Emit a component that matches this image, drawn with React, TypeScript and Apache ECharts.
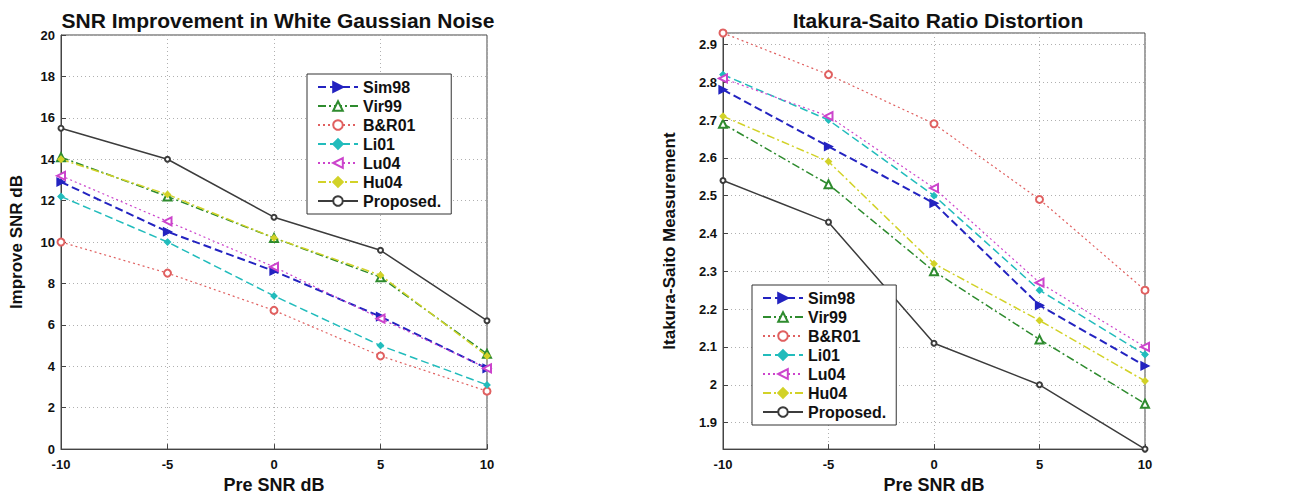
import React, { useEffect, useRef } from 'react';
import * as echarts from 'echarts';

// ---- data ----
const preSnr = [-10, -5, 0, 5, 10];
const seriesNames = ['Sim98', 'Vir99', 'B&R01', 'Li01', 'Lu04', 'Hu04', 'Proposed.'];

// SNR improvement (dB)
const snrSim98 = [12.9, 10.5, 8.6, 6.4, 3.9];
const snrVir99 = [14.1, 12.2, 10.2, 8.3, 4.6];
const snrBR01 = [10.0, 8.5, 6.7, 4.5, 2.8];
const snrLi01 = [12.2, 10.0, 7.4, 5.0, 3.1];
const snrLu04 = [13.2, 11.0, 8.8, 6.3, 3.9];
const snrHu04 = [14.0, 12.3, 10.2, 8.4, 4.5];
const snrProposed = [15.5, 14.0, 11.2, 9.6, 6.2];

// Itakura-Saito measurement
const isSim98 = [2.78, 2.63, 2.48, 2.21, 2.05];
const isVir99 = [2.69, 2.53, 2.30, 2.12, 1.95];
const isBR01 = [2.93, 2.82, 2.69, 2.49, 2.25];
const isLi01 = [2.82, 2.70, 2.50, 2.25, 2.08];
const isLu04 = [2.81, 2.71, 2.52, 2.27, 2.10];
const isHu04 = [2.71, 2.59, 2.32, 2.17, 2.01];
const isProposed = [2.54, 2.43, 2.11, 2.00, 1.83];

const snrSets = [snrSim98, snrVir99, snrBR01, snrLi01, snrLu04, snrHu04, snrProposed];
const isSets = [isSim98, isVir99, isBR01, isLi01, isLu04, isHu04, isProposed];

// ---- styles ----
const styles = [
  { color: '#2323c0', type: [8, 4], width: 2, symbol: 'triangle', rotate: -90, size: 8 },
  { color: '#2e8b2e', type: [8, 3, 2, 3], width: 1.5, symbol: 'emptyTriangle', rotate: 0, size: 8 },
  { color: '#e06060', type: [2, 3], width: 1.2, symbol: 'emptyCircle', rotate: 0, size: 7 },
  { color: '#22bcbc', type: [8, 4], width: 1.5, symbol: 'diamond', rotate: 0, size: 6 },
  { color: '#cc44cc', type: [2, 3], width: 1.2, symbol: 'emptyTriangle', rotate: 90, size: 8 },
  { color: '#d2d228', type: [8, 3, 2, 3], width: 1.5, symbol: 'diamond', rotate: 0, size: 6 },
  { color: '#3c3c3c', type: 'solid', width: 1.5, symbol: 'emptyCircle', rotate: 0, size: 5 },
];

const FONT = 'Arial, "Liberation Sans", sans-serif';

function makeSeries(sets: number[][], axisIndex: number) {
  return sets.map((vals, i) => {
    const s = styles[i];
    return {
      type: 'line',
      name: seriesNames[i],
      xAxisIndex: axisIndex,
      yAxisIndex: axisIndex,
      data: preSnr.map((x, k) => [x, vals[k]]),
      symbol: s.symbol,
      symbolRotate: s.rotate,
      symbolSize: s.size,
      showSymbol: true,
      lineStyle: { color: s.color, type: s.type as any, width: s.width },
      itemStyle: { color: s.color, borderColor: s.color, borderWidth: 1.3 },
      z: i === 6 ? 3 : 2,
    };
  });
}

const axisLabelStyle = { color: '#111', fontFamily: FONT, fontWeight: 'bold' as const, fontSize: 13, lineHeight: 13 };
const splitLineStyle = { show: true, lineStyle: { color: '#b0b0b0', type: [1, 3] as any, width: 1 } };
const axisLineStyle = { show: true, onZero: false, lineStyle: { color: '#444', width: 1 } };
const nameStyle = { color: '#111', fontFamily: FONT, fontWeight: 'bold' as const, fontSize: 18 };

const legendBase = {
  orient: 'vertical' as const,
  data: seriesNames,
  backgroundColor: '#fff',
  borderColor: '#333',
  borderWidth: 1,
  itemWidth: 40,
  itemHeight: 12,
  itemGap: 3,
  selectedMode: false,
  textStyle: { color: '#111', fontFamily: FONT, fontWeight: 'bold' as const, fontSize: 16, lineHeight: 15 },
};

export default function App() {
  const ref = useRef<HTMLDivElement>(null);
  useEffect(() => {
    if (!ref.current) return;
    const chart = echarts.init(ref.current, undefined, { renderer: 'svg' });
    chart.setOption({
      animation: false,
      backgroundColor: '#fff',
      title: [
        {
          text: 'SNR Improvement in White Gaussian Noise',
          left: 273,
          top: 5,
          textAlign: 'center',
          textStyle: { color: '#111', fontFamily: FONT, fontWeight: 'bold', fontSize: 21 },
        },
        {
          text: 'Itakura-Saito Ratio Distortion',
          left: 933,
          top: 5,
          textAlign: 'center',
          textStyle: { color: '#111', fontFamily: FONT, fontWeight: 'bold', fontSize: 21 },
        },
      ],
      grid: [
        { left: 61, top: 35, width: 426, height: 422, show: true, borderColor: '#444', borderWidth: 1, backgroundColor: '#fff' },
        { left: 723, top: 33, width: 422, height: 423, show: true, borderColor: '#444', borderWidth: 1, backgroundColor: '#fff' },
      ],
      xAxis: [0, 1].map((g) => ({
        type: 'value',
        gridIndex: g,
        min: -10,
        max: 10,
        interval: 5,
        name: 'Pre SNR dB',
        nameLocation: 'middle',
        nameGap: 22,
        nameTextStyle: nameStyle,
        axisLine: axisLineStyle,
        axisTick: { show: true, inside: true, length: 5, lineStyle: { color: '#444' } },
        axisLabel: { ...axisLabelStyle, margin: 9 },
        splitLine: splitLineStyle,
      })),
      yAxis: [
        {
          type: 'value',
          gridIndex: 0,
          min: 0,
          max: 20,
          interval: 2,
          name: 'Improve SNR dB',
          nameLocation: 'middle',
          nameGap: 36,
          nameTextStyle: { ...nameStyle, fontSize: 17 },
          axisLine: axisLineStyle,
          axisTick: { show: true, inside: true, length: 5, lineStyle: { color: '#444' } },
          axisLabel: { ...axisLabelStyle, margin: 6 },
          splitLine: splitLineStyle,
        },
        {
          type: 'value',
          gridIndex: 1,
          min: 1.83,
          max: 2.93,
          splitNumber: 10,
          name: 'Itakura-Saito Measurement',
          nameLocation: 'middle',
          nameGap: 45,
          nameTextStyle: { ...nameStyle, fontSize: 17 },
          axisLine: axisLineStyle,
          axisTick: { show: true, inside: true, length: 5, lineStyle: { color: '#444' } },
          axisLabel: { ...axisLabelStyle, margin: 6, showMinLabel: false, showMaxLabel: false },
          splitLine: splitLineStyle,
        },
      ],
      legend: [
        { ...legendBase, left: 307, top: 74, padding: [5, 10, 5, 10] },
        { ...legendBase, left: 752, top: 285, padding: [5, 10, 5, 10] },
      ],
      series: [...makeSeries(snrSets, 0), ...makeSeries(isSets, 1)],
    });
    return () => chart.dispose();
  }, []);
  return <div ref={ref} style={{ position: 'absolute', left: 0, top: 0, width: 1295, height: 499 }} />;
}
